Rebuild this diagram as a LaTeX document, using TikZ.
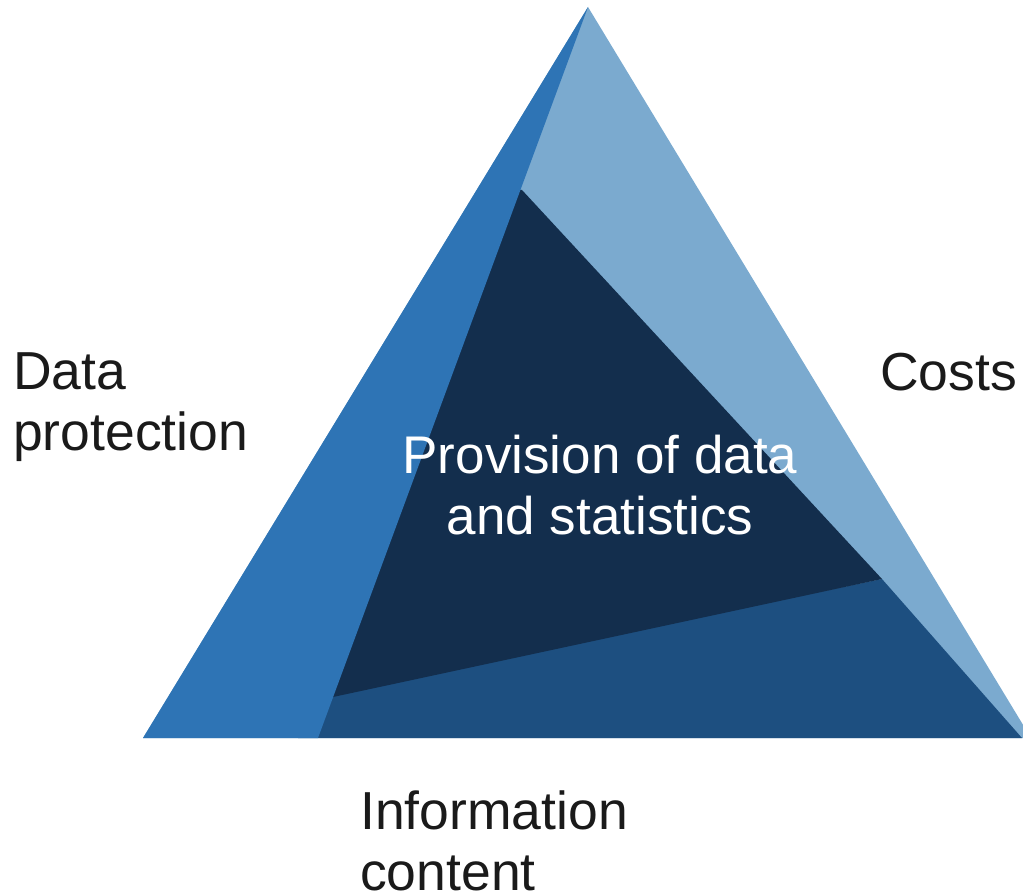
\documentclass[tikz,border=0pt]{standalone}
\usepackage{fontspec}
\setmainfont{Liberation Sans}

\definecolor{stripblue}{HTML}{2E74B5}
\definecolor{paleblue}{HTML}{7BAACF}
\definecolor{navyblue}{HTML}{132E4D}
\definecolor{baseblue}{HTML}{1D4F80}
\definecolor{labelgray}{HTML}{1A1A1A}

\tikzset{
  sidelabel/.style={inner sep=0pt, align=left, text=labelgray, anchor=north west,
    font=\fontsize{53.5}{61}\selectfont},
  corelabel/.style={inner sep=0pt, align=center, text=white, anchor=north,
    font=\fontsize{53}{61}\selectfont}
}

\begin{document}
\begin{tikzpicture}[x=1pt, y=-1pt]
\useasboundingbox (0,0) rectangle (1023,893);
\clip (0,0) rectangle (1023,893);

% Outer corners
\coordinate (top) at (588,7);
\coordinate (left) at (143,738);
\coordinate (right) at (1031,738);

% Inner corners
\coordinate (innertop) at (522,190);
\coordinate (innerright) at (882,579);
\coordinate (innerleft) at (333,697);
\coordinate (stripfoot) at (318,738);
\coordinate (costfoot) at (1022,738);

% Costs side (whole triangle first)
\fill[paleblue] (top) -- (left) -- (right) -- cycle;

% Information content band (runs on under the strip)
\fill[baseblue] ([xshift=-20pt]stripfoot) -- ([xshift=-20pt]innerleft) -- (innerright)
  -- (costfoot) -- cycle;

% Core
\fill[navyblue] (innertop) -- (innerright) -- (innerleft) -- ([xshift=-20pt]innerleft)
  -- ([xshift=-10pt]innertop) -- cycle;

% Data protection strip on top
\fill[stripblue] (top) -- (left) -- (stripfoot) -- cycle;

% Labels
\node[sidelabel] (dataprot) at (13,352) {Data\\protection};
\node[sidelabel] (costs) at (880,353) {Costs};
\node[sidelabel] (infocontent) at (360,791) {Information\\content};
\node[corelabel] (provision) at (600,435) {Provision of data\\and statistics};

\end{tikzpicture}
\end{document}
